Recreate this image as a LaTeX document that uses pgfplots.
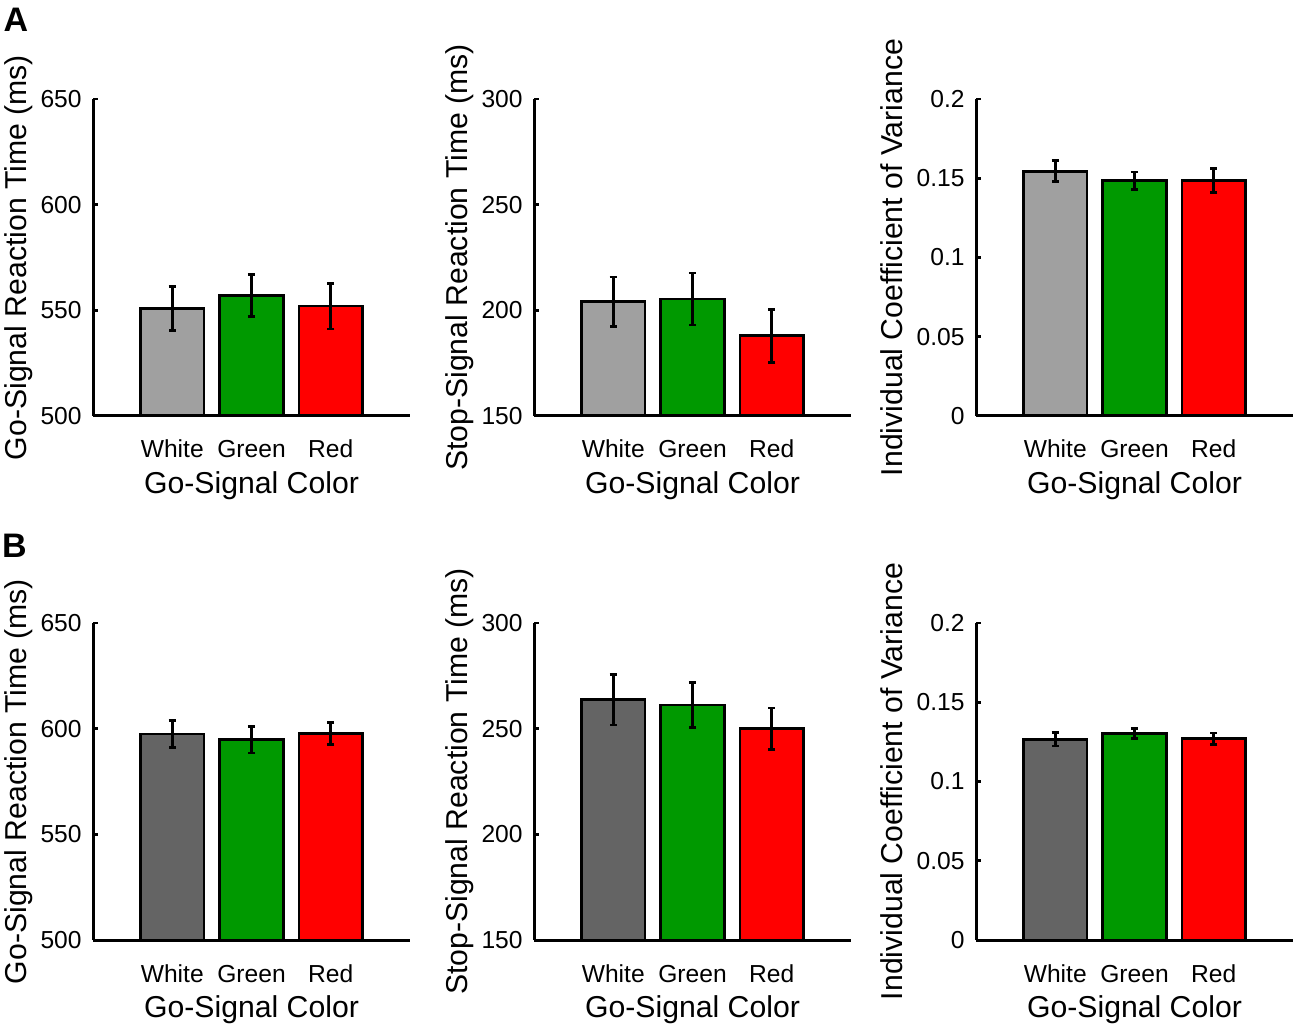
\documentclass[border=0pt]{standalone}
\usepackage{pgfplots}
\pgfplotsset{compat=1.18}
\usepackage{fontspec}
\setmainfont{Liberation Sans}
\definecolor{gA}{RGB}{160,160,160}
\definecolor{gB}{RGB}{100,100,100}
\definecolor{gG}{RGB}{0,153,0}
\definecolor{gR}{RGB}{255,0,0}
\newcommand\ticfont{\fontsize{12.3bp}{14bp}\selectfont}
\newcommand\labfont{\fontsize{15.1bp}{18bp}\selectfont}
\pgfplotsset{
  panel/.style={
    scale only axis, width=158.5bp, height=158.5bp,
    anchor=south west,
    xmin=0, xmax=4,
    axis lines*=left,
    axis line style={line width=1.5bp, black, -},
    axis on top,
    xtick={1,2,3}, xticklabels={White,Green,Red},
    x tick style={draw=none},
    tick align=inside, major tick length=2.5bp,
    y tick style={line width=1.4bp, black},
    ytick pos=left,
    scaled y ticks=false,
    /pgf/number format/assume math mode=true,
    tick label style={font=\ticfont},
    yticklabel style={anchor=east, inner sep=0pt, xshift=-5.5bp},
    xticklabel style={anchor=base, inner sep=0pt, yshift=-18.5bp},
    xlabel={Go-Signal Color},
    xlabel style={font=\labfont, at={(axis description cs:0.5,-0.246)}, anchor=base},
    ylabel style={font=\labfont, at={(axis description cs:-0.2095,0.5)}, anchor=base},
    ybar, bar width=0.8, bar shift=0pt,
    every axis plot/.append style={draw=black, line width=1.4bp,
      error bars/y dir=both, error bars/y explicit, error bars/error mark=-,
      error bars/error bar style={line width=1.4bp, black, solid},
      error bars/error mark options={line width=1.4bp, black, solid, rotate=90, mark size=1.8bp}},
  },
  rt/.style={ymin=500, ymax=650, ytick={500,550,600,650}, yticklabels={500,550,600,650},
    ylabel={Go-Signal Reaction Time (ms)}},
  ssrt/.style={ymin=150, ymax=300, ytick={150,200,250,300}, yticklabels={150,200,250,300},
    ylabel={Stop-Signal Reaction Time (ms)}},
  cv/.style={ymin=0, ymax=0.2, ytick={0,0.05,0.1,0.15,0.2}, yticklabels={0,0.05,0.1,0.15,0.2},
    ylabel={Individual Coefficient of Variance},
    ylabel style={at={(axis description cs:-0.2312,0.5)}}},
}
\begin{document}
\begin{tikzpicture}
\path[use as bounding box] (0,0) rectangle (650bp,514.5bp);
% Row A
\begin{axis}[panel, rt, at={(46.5bp,306.5bp)}]
\addplot[fill=gA] coordinates {(1,550.7) +- (0,10.4)};
\addplot[fill=gG] coordinates {(2,557.0) +- (0,9.8)};
\addplot[fill=gR] coordinates {(3,552.0) +- (0,10.8)};
\end{axis}
\begin{axis}[panel, ssrt, at={(267bp,306.5bp)}]
\addplot[fill=gA] coordinates {(1,204.1) +- (0,11.7)};
\addplot[fill=gG] coordinates {(2,205.4) +- (0,12.3)};
\addplot[fill=gR] coordinates {(3,187.9) +- (0,12.5)};
\end{axis}
\begin{axis}[panel, cv, at={(488bp,306.5bp)}]
\addplot[fill=gA] coordinates {(1,0.1545) +- (0,0.0065)};
\addplot[fill=gG] coordinates {(2,0.1485) +- (0,0.0055)};
\addplot[fill=gR] coordinates {(3,0.1485) +- (0,0.0075)};
\end{axis}
% Row B
\begin{axis}[panel, rt, at={(46.5bp,44.5bp)}]
\addplot[fill=gB] coordinates {(1,597.5) +- (0,6.4)};
\addplot[fill=gG] coordinates {(2,594.8) +- (0,6.3)};
\addplot[fill=gR] coordinates {(3,597.6) +- (0,5.2)};
\end{axis}
\begin{axis}[panel, ssrt, at={(267bp,44.5bp)}]
\addplot[fill=gB] coordinates {(1,263.7) +- (0,12.0)};
\addplot[fill=gG] coordinates {(2,261.2) +- (0,10.5)};
\addplot[fill=gR] coordinates {(3,249.9) +- (0,9.9)};
\end{axis}
\begin{axis}[panel, cv, at={(488bp,44.5bp)}]
\addplot[fill=gB] coordinates {(1,0.1266) +- (0,0.0042)};
\addplot[fill=gG] coordinates {(2,0.1302) +- (0,0.0033)};
\addplot[fill=gR] coordinates {(3,0.1270) +- (0,0.0036)};
\end{axis}
\node[font=\fontsize{17bp}{20bp}\selectfont\bfseries, anchor=center] at (8bp,504.5bp) {A};
\node[font=\fontsize{17bp}{20bp}\selectfont\bfseries, anchor=center] at (7.25bp,241.5bp) {B};
\end{tikzpicture}
\end{document}
